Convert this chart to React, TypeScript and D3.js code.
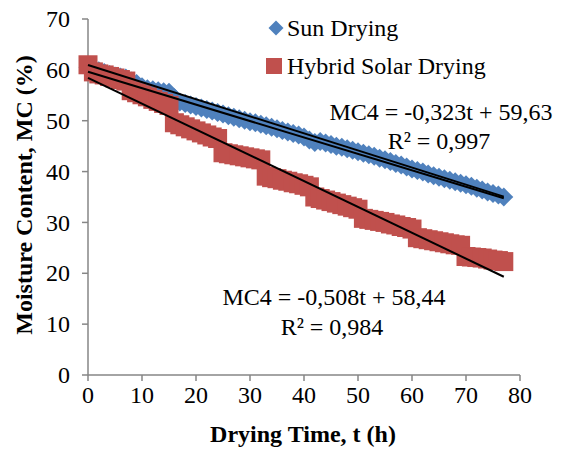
import * as d3 from 'd3';
import React from 'react';

// drying time (h), one reading per hour
const hours = d3.range(0, 78);

const sunDrying = [
  60.5, 60.1, 59.8, 59.5, 59.1, 58.8, 58.6, 58.4, 57.8, 57.3,
  56.7, 56.3, 56.1, 55.9, 55.7, 55.6, 54.5, 53.7, 53.4, 53.1,
  52.8, 52.5, 52.2, 51.9, 51.6, 51.3, 51.0, 50.7, 50.4, 50.1,
  49.8, 49.6, 49.3, 49.0, 48.7, 48.4, 48.1, 47.8, 47.5, 47.2,
  46.8, 46.2, 45.7, 45.9, 45.6, 45.3, 45.0, 44.8, 44.5, 44.2,
  43.9, 43.6, 43.3, 43.0, 42.6, 42.3, 42.0, 41.6, 41.3, 40.9,
  40.5, 40.2, 39.9, 39.5, 39.2, 38.9, 38.6, 38.3, 38.0, 37.7,
  37.4, 37.1, 36.7, 36.4, 36.0, 35.7, 35.4, 35.0,
];

const hybridDrying = [
  61.0, 59.6, 59.2, 59.0, 58.7, 58.4, 58.1, 57.8,
  55.9, 55.5, 55.1, 54.7, 54.2, 53.8, 53.4, 53.0,
  49.6, 49.2, 48.8, 48.4, 48.0, 47.6, 47.2, 46.8, 46.5,
  43.7, 43.5, 43.3, 43.1, 42.9, 42.7, 42.5, 42.3,
  39.1, 38.8, 38.6, 38.3, 38.1, 37.8, 37.6, 37.3, 37.0,
  35.0, 34.7, 34.4, 34.1, 33.8, 33.5, 33.2, 32.9, 32.6,
  30.8, 30.6, 30.4, 30.2, 30.0, 29.7, 29.5, 29.2, 29.0, 28.7,
  27.0, 26.8, 26.6, 26.4, 26.2, 26.0, 25.8, 25.6, 25.5,
  23.3, 23.2, 23.1, 23.0, 22.8, 22.6, 22.5, 22.3,
];

// fitted lines: [intercept, slope]
const trendLines = [
  [60.95, -0.336],
  [59.63, -0.323],
  [58.44, -0.508],
];
const trendEnd = 77;

const xTicks = [0, 10, 20, 30, 40, 50, 60, 70, 80];
const yTicks = [0, 10, 20, 30, 40, 50, 60, 70];

const BLUE = '#4F81BD';
const RED = '#C0504D';
const AXIS = '#868686';
const FONT = '"Liberation Serif", "Times New Roman", serif';

const App = () => {
  const x = d3.scaleLinear().domain([0, 80]).range([88, 520]);
  const y = d3.scaleLinear().domain([0, 70]).range([375, 19]);

  const diamond = (h) => `M0,${-h}L${h},0L0,${h}L${-h},0Z`;
  const line = d3.line().x((d) => x(d[0])).y((d) => y(d[1]));
  const sq = 19;

  return (
    <svg width={565} height={455} style={{ position: 'absolute', left: 0, top: 0, background: '#fff' }}
      fontFamily={FONT}>
      {/* axes */}
      <line x1={x(0)} x2={x(0)} y1={y(0)} y2={y(70)} stroke={AXIS} strokeWidth={1.5} />
      <line x1={x(0)} x2={x(80)} y1={y(0)} y2={y(0)} stroke={AXIS} strokeWidth={1.5} />
      {yTicks.map((t) => (
        <g key={'y' + t}>
          <line x1={x(0) - 6} x2={x(0)} y1={y(t)} y2={y(t)} stroke={AXIS} strokeWidth={1.5} />
          <text x={x(0) - 18} y={y(t)} dy="0.34em" textAnchor="end" fontSize={24}>{t}</text>
        </g>
      ))}
      {xTicks.map((t) => (
        <g key={'x' + t}>
          <line x1={x(t)} x2={x(t)} y1={y(0)} y2={y(0) + 6} stroke={AXIS} strokeWidth={1.5} />
          <text x={x(t)} y={403} textAnchor="middle" fontSize={24}>{t}</text>
        </g>
      ))}

      {/* series */}
      <g fill={BLUE}>
        {hours.map((t, i) => (
          <path key={'s' + t} d={diamond(9.5)} transform={`translate(${x(t)},${y(sunDrying[i])})`} />
        ))}
      </g>
      <g fill={RED}>
        {hours.map((t, i) => (
          <rect key={'h' + t} x={x(t) - sq / 2} y={y(hybridDrying[i]) - sq / 2} width={sq} height={sq} />
        ))}
      </g>

      {/* trend lines */}
      {trendLines.map(([b, m], i) => (
        <path key={'tr' + i} d={line([[0, b], [trendEnd, b + m * trendEnd]])}
          stroke="#000" strokeWidth={2} fill="none" />
      ))}

      {/* equations */}
      <text x={441} y={120} textAnchor="middle" fontSize={24}>MC4 = -0,323t + 59,63</text>
      <text x={439} y={149} textAnchor="middle" fontSize={24}>R² = 0,997</text>
      <text x={334} y={305} textAnchor="middle" fontSize={24}>MC4 = -0,508t + 58,44</text>
      <text x={332} y={335} textAnchor="middle" fontSize={24}>R² = 0,984</text>

      {/* legend */}
      <path d={diamond(7.5)} transform="translate(276,28)" fill={BLUE} />
      <text x={287} y={36} fontSize={24}>Sun Drying</text>
      <rect x={266} y={58} width={16} height={16} fill={RED} />
      <text x={287} y={74} fontSize={24}>Hybrid Solar Drying</text>

      {/* axis titles */}
      <text x={303} y={442} textAnchor="middle" fontSize={24} fontWeight="bold">Drying Time, t (h)</text>
      <text transform="translate(32,195) rotate(-90)" textAnchor="middle" fontSize={24} fontWeight="bold">
        Moisture Content, MC (%)
      </text>
    </svg>
  );
};

export default App;
